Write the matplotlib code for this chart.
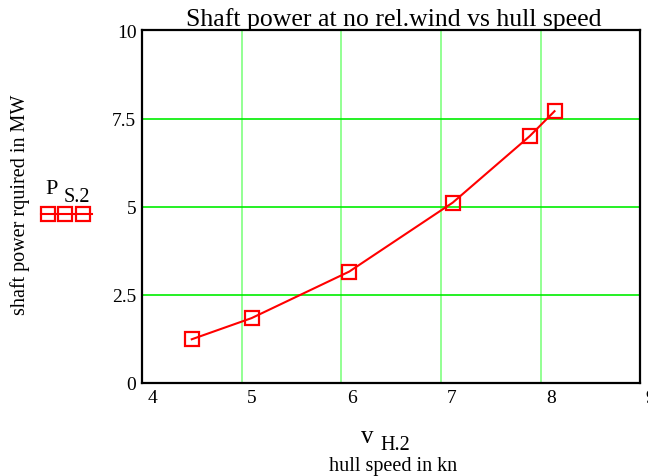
import matplotlib
matplotlib.use("Agg")
import matplotlib.pyplot as plt
from matplotlib.lines import Line2D
from matplotlib.transforms import ScaledTranslation
import numpy as np

# hull speed (kn) and shaft power (MW)
hull_speed = [4.50, 5.10, 6.08, 7.12, 7.89, 8.14]
shaft_power = [1.24, 1.84, 3.16, 5.12, 7.00, 7.71]
x_ticks = [4, 5, 6, 7, 8, 9]
y_ticks = [0, 2.5, 5, 7.5, 10]
y_ticklabels = ['0', '2.5', '5', '7.5', '10']

plt.rcParams['font.family'] = ['Liberation Serif', 'DejaVu Serif']

fig = plt.figure(figsize=(6.48, 4.77), dpi=100)
ax = fig.add_axes([0.219, 0.195, 0.769, 0.739])

ax.plot(hull_speed, shaft_power, color='red', lw=1.5, marker='s', ms=10.5,
        mfc='none', mec='red', mew=1.6, zorder=5, clip_on=False)

ax.set_xlim(4, 9)
ax.set_ylim(0, 10)
ax.set_xticks(x_ticks)
ax.set_yticks(y_ticks)
ax.set_yticklabels(y_ticklabels)
ax.tick_params(length=0, labelsize=14, pad=4)
# x tick labels sit just right of their tick
shift = ScaledTranslation(4 / 72, 0, fig.dpi_scale_trans)
for lab in ax.get_xticklabels():
    lab.set_horizontalalignment('left')
    lab.set_transform(lab.get_transform() + shift)

# grid: vertical light green, horizontal bright green
for xv in x_ticks[1:-1]:
    ax.axvline(xv, color='#80ff80', lw=1.2, zorder=1)
for yv in y_ticks[1:]:
    ax.axhline(yv, color='#00ee00', lw=1.2, zorder=1)

for s in ax.spines.values():
    s.set_linewidth(1.6)
    s.set_color('black')

fig.text(0.607, 0.960, 'Shaft power at no rel.wind vs hull speed',
         ha='center', va='center', fontsize=18.5)

# x axis label
fig.text(0.567, 0.083, 'v', ha='center', va='center', fontsize=18)
fig.text(0.610, 0.066, 'H.2', ha='center', va='center', fontsize=14.5)
fig.text(0.607, 0.022, 'hull speed in kn', ha='center', va='center', fontsize=14.5)

# y axis label
fig.text(0.031, 0.57, 'shaft power rquired in MW', ha='center', va='center',
         rotation=90, fontsize=14.5)

# legend
fig.text(0.080, 0.603, 'P', ha='center', va='center', fontsize=16)
fig.text(0.119, 0.586, 'S.2', ha='center', va='center', fontsize=14.5)
fig.add_artist(Line2D([0.064, 0.142], [0.549, 0.549], transform=fig.transFigure,
                     color='red', lw=1.5))
fig.add_artist(Line2D([0.074, 0.101, 0.128], [0.549, 0.549, 0.549],
                      transform=fig.transFigure, ls='none', marker='s', ms=10.5,
                      mfc='none', mec='red', mew=1.6))

fig.savefig('out.png', dpi=100)
